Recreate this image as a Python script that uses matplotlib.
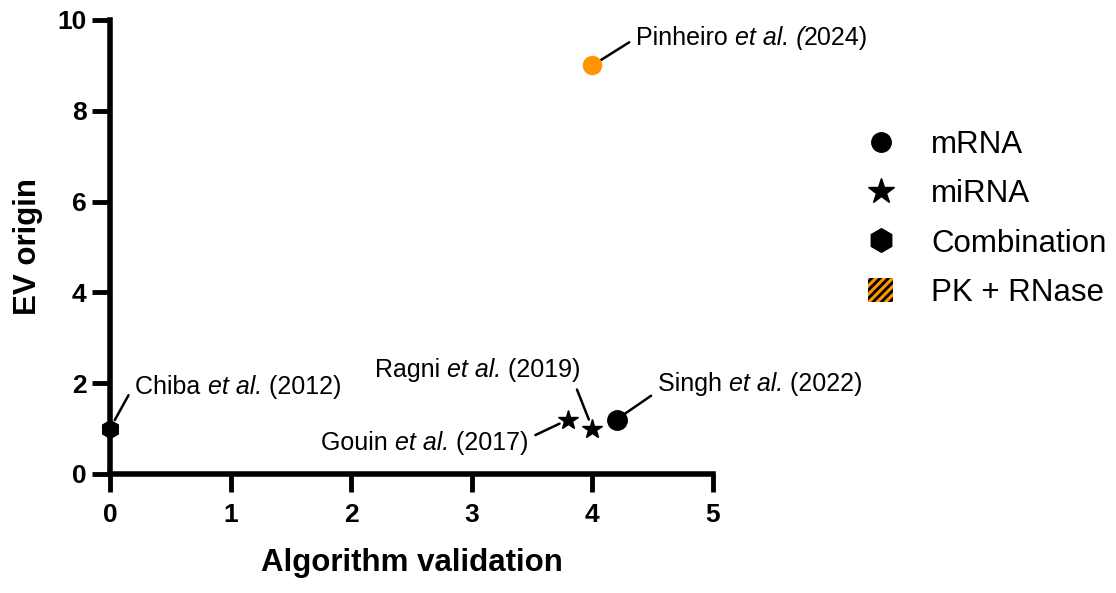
import matplotlib.pyplot as plt
from matplotlib.lines import Line2D
from matplotlib.patches import Patch
from matplotlib.offsetbox import TextArea, HPacker, AnnotationBbox

plt.rcParams['font.family'] = ['Liberation Sans', 'DejaVu Sans']
plt.rcParams['hatch.linewidth'] = 2.0

# Data
authors = ['Chiba ', 'Gouin ', 'Ragni ', 'Singh ', 'Pinheiro ']
italic_part = ['et al.', 'et al.', 'et al.', 'et al.', 'et al. (']
years = [' (2012)', ' (2017)', ' (2019)', ' (2022)', '2024)']
algo = [0.0, 3.8, 4.0, 4.2, 4.0]
ev_origin = [1.0, 1.2, 1.0, 1.2, 9.0]
markers = ['h', '*', '*', 'o', 'o']
colors = ['black', 'black', 'black', 'black', '#FF9500']
sizes = [13, 15, 15, 14, 13]

# label placement (data coords) and alignment
text_pos = [(0.21, 1.92), (3.47, 0.68), (3.90, 2.28), (4.54, 1.98), (4.36, 9.6)]
box_align = [(0, 0.5), (1, 0.5), (1, 0.5), (0, 0.5), (0, 0.5)]
rel = [(-0.03, 0.2), (1, 0.7), (0.97, 0.0), (0, 0.2), (0, 0.5)]
gap = [1, 4, 4, 4, 4]

fig = plt.figure(figsize=(11.16, 5.93), dpi=100)
ax = fig.add_axes([0.0986, 0.2007, 0.5403, 0.7656])

for x, y, m, c, s in zip(algo, ev_origin, markers, colors, sizes):
    ax.plot(x, y, marker=m, color=c, markersize=s, linestyle='none',
            clip_on=False, zorder=5)

for a, it, yr, x, y, tp, ba, rp, g in zip(authors, italic_part, years, algo,
                                           ev_origin, text_pos, box_align, rel, gap):
    parts = [TextArea(a, textprops=dict(fontsize=18)),
             TextArea(it, textprops=dict(fontsize=18, fontstyle='italic')),
             TextArea(yr, textprops=dict(fontsize=18))]
    box = HPacker(children=parts, align='baseline', pad=0, sep=0)
    ab = AnnotationBbox(box, (x, y), xybox=tp, xycoords='data',
                        boxcoords='data', box_alignment=ba, frameon=False,
                        pad=0.1,
                        arrowprops=dict(arrowstyle='-', color='black', lw=1.8,
                                        relpos=rp, shrinkA=g, shrinkB=7))
    ax.add_artist(ab)

ax.set_xlim(0, 5)
ax.set_ylim(0, 10)
ax.set_xticks(range(0, 6))
ax.set_yticks(range(0, 11, 2))
for sp in ['top', 'right']:
    ax.spines[sp].set_visible(False)
for sp in ['left', 'bottom']:
    ax.spines[sp].set_linewidth(4)
    ax.spines[sp].set_capstyle('projecting')
ax.tick_params(width=3.5, length=13, labelsize=19, pad=4)
ax.tick_params(axis='x', pad=8)
for t in ax.get_xticklabels() + ax.get_yticklabels():
    t.set_fontweight('bold')

ax.set_xlabel('Algorithm validation', fontsize=22.5, fontweight='bold', labelpad=15)
ax.set_ylabel('EV origin', fontsize=22.5, fontweight='bold', labelpad=10)

handles = [
    Line2D([], [], marker='o', color='black', linestyle='none', markersize=14),
    Line2D([], [], marker='*', color='black', linestyle='none', markersize=19),
    Line2D([], [], marker='h', color='black', linestyle='none', markersize=17),
    Patch(facecolor='#FF9500', edgecolor='black', hatch='////', linewidth=0),
]
leg_labels = ['mRNA', 'miRNA', 'Combination', 'PK + RNase']
fig.legend(handles, leg_labels, loc='upper left', bbox_to_anchor=(0.753, 0.828),
           frameon=False, fontsize=22.5, handlelength=0.8, handleheight=0.8,
           handletextpad=1.2, labelspacing=0.62)

fig.savefig('out.png', dpi=100)
